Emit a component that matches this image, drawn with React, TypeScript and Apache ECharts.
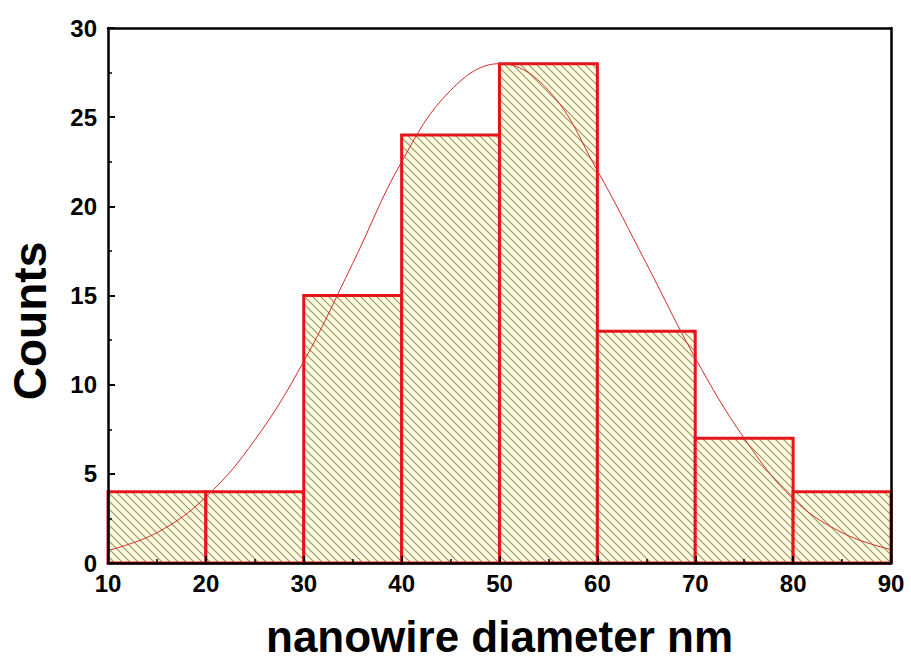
import React, { useEffect, useRef } from "react";
import * as echarts from "echarts";

const binStart = [10, 20, 30, 40, 50, 60, 70, 80];
const binEnd = [20, 30, 40, 50, 60, 70, 80, 90];
const counts = [4, 4, 15, 24, 28, 13, 7, 4];

const fitX = [10, 15, 20, 25, 30, 35, 40, 45, 50, 55, 60, 65, 70, 75, 80, 85, 90];
const fitY = [0.7, 1.7, 3.7, 6.9, 11.3, 16.8, 22.5, 26.5, 28.0, 26.5, 22.0, 16.8, 11.5, 7.0, 3.6, 1.7, 0.75];

const xTitle = "nanowire diameter nm";
const yTitle = "Counts";

const FONT = '"Liberation Sans", Arial, sans-serif';

function makeHatch(): HTMLCanvasElement {
  const s = 8;
  const c = document.createElement("canvas");
  c.width = s;
  c.height = s;
  const g = c.getContext("2d")!;
  g.fillStyle = "#fdfbe2";
  g.fillRect(0, 0, s, s);
  g.strokeStyle = "#9a9a60";
  g.lineWidth = 1.2;
  g.beginPath();
  for (let k = -1; k <= 1; k++) {
    g.moveTo(-1, -1 + k * s);
    g.lineTo(s + 1, s + 1 + k * s);
  }
  g.stroke();
  return c;
}

export default function App() {
  const ref = useRef<HTMLDivElement>(null);
  useEffect(() => {
    if (!ref.current) return;
    const chart = echarts.init(ref.current, undefined, { renderer: "svg" });
    const hatch = makeHatch();
    const histData = binStart.map((s, i) => [s, binEnd[i], counts[i]]);
    const lineData = fitX.map((x, i) => [x, fitY[i]]);
    const axisLabel = { fontFamily: FONT, fontWeight: "bold", fontSize: 24, color: "#000" };
    chart.setOption({
      animation: false,
      backgroundColor: "#fff",
      grid: { left: 108, right: 20, top: 28, bottom: 100, outerBoundsMode: "none", containLabel: false },
      xAxis: [
        {
          type: "value",
          min: 10,
          max: 90,
          interval: 10,
          position: "bottom",
          z: 10,
          axisLine: { show: true, onZero: false, lineStyle: { color: "#000", width: 2.5 } },
          axisTick: { show: true, inside: true, length: 7, lineStyle: { color: "#000", width: 2 } },
          minorTick: { show: true, splitNumber: 2, length: 4, lineStyle: { color: "#000", width: 1.5 } },
          splitLine: { show: false },
          axisLabel: { ...axisLabel, margin: 8 },
          name: xTitle,
          nameLocation: "middle",
          nameGap: 51,
          nameTextStyle: { fontFamily: FONT, fontWeight: "bold", fontSize: 44, color: "#000" },
        },
        {
          type: "value",
          min: 10,
          max: 90,
          position: "top",
          z: 10,
          axisLine: { show: true, onZero: false, lineStyle: { color: "#000", width: 2.5 } },
          axisTick: { show: false },
          axisLabel: { show: false },
          splitLine: { show: false },
        },
      ],
      yAxis: [
        {
          type: "value",
          min: 0,
          max: 30,
          interval: 5,
          position: "left",
          z: 10,
          axisLine: { show: true, onZero: false, lineStyle: { color: "#000", width: 2.5 } },
          axisTick: { show: true, inside: true, length: 7, lineStyle: { color: "#000", width: 2 } },
          minorTick: { show: true, splitNumber: 2, length: 4, lineStyle: { color: "#000", width: 1.5 } },
          splitLine: { show: false },
          axisLabel: { ...axisLabel, margin: 11 },
        },
        {
          type: "value",
          min: 0,
          max: 30,
          position: "right",
          z: 10,
          axisLine: { show: true, onZero: false, lineStyle: { color: "#000", width: 2.5 } },
          axisTick: { show: false },
          axisLabel: { show: false },
          splitLine: { show: false },
        },
      ],
      graphic: [
        {
          type: "text",
          x: 30,
          y: 321,
          rotation: Math.PI / 2,
          style: {
            text: yTitle,
            font: `bold 46px ${FONT}`,
            fill: "#000",
            align: "center",
            verticalAlign: "middle",
          },
        },
      ],
      series: [
        {
          type: "custom",
          xAxisIndex: 0,
          yAxisIndex: 0,
          data: histData,
          encode: { x: [0, 1], y: 2 },
          renderItem: (params: any, api: any) => {
            const p0 = api.coord([api.value(0), api.value(2)]);
            const p1 = api.coord([api.value(1), 0]);
            return {
              type: "rect",
              shape: { x: p0[0], y: p0[1], width: p1[0] - p0[0], height: p1[1] - p0[1] },
              style: {
                fill: { image: hatch, repeat: "repeat" },
                stroke: "#e8141b",
                lineWidth: 3,
              },
            };
          },
          z: 2,
        },
        {
          type: "line",
          xAxisIndex: 0,
          yAxisIndex: 0,
          data: lineData,
          smooth: 0.4,
          showSymbol: false,
          lineStyle: { color: "#d42a2a", width: 1 },
          z: 3,
        },
      ],
    });
    return () => chart.dispose();
  }, []);
  return <div ref={ref} style={{ width: 911, height: 663, position: "absolute", left: 0, top: 0 }} />;
}
